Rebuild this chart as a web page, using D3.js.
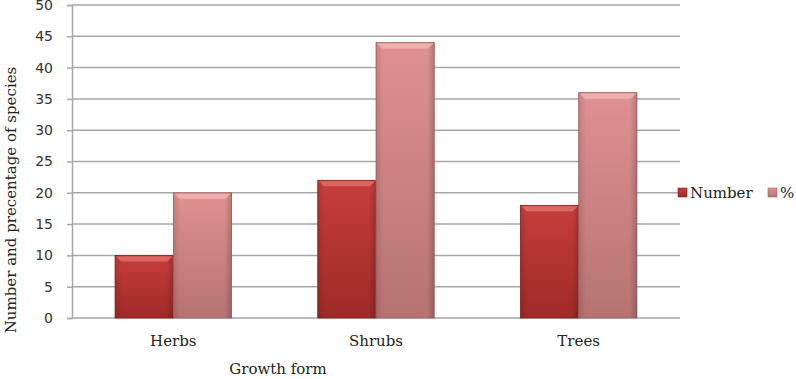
<!DOCTYPE html>
<html>
<head>
<meta charset="utf-8">
<script src="https://cdn.jsdelivr.net/npm/d3@7"></script>
<style>
  body { margin: 0; background: #fff; }
</style>
</head>
<body>
<script>
const categories = ["Herbs", "Shrubs", "Trees"];
const seriesNames = ["Number", "%"];
const numberValues = [10, 22, 18];
const percentValues = [20, 44, 36];
const yTicks = [0, 5, 10, 15, 20, 25, 30, 35, 40, 45, 50];

const margin = { top: 5, right: 116, bottom: 61, left: 72 };
const width = 796 - margin.left - margin.right;
const height = 379 - margin.top - margin.bottom;
const serif = "DejaVu Serif, Georgia, serif";

const svg = d3.select("body")
  .append("svg")
  .attr("width", 796)
  .attr("height", 379);

const defs = svg.append("defs");
const palette = [
  { id: "gNum", top: "#c73e3c", bottom: "#9e2a28", edge: "#8a2322", hi: "#de6a66" },
  { id: "gPct", top: "#e09191", bottom: "#b67272", edge: "#a26565", hi: "#f0b4b2" }
];
palette.forEach(p => {
  const lg = defs.append("linearGradient")
    .attr("id", p.id).attr("x1", 0).attr("y1", 0).attr("x2", 0).attr("y2", 1);
  lg.append("stop").attr("offset", "0%").attr("stop-color", p.top);
  lg.append("stop").attr("offset", "100%").attr("stop-color", p.bottom);
  const sg = defs.append("linearGradient")
    .attr("id", p.id + "s").attr("x1", 0).attr("y1", 0).attr("x2", 1).attr("y2", 0);
  sg.append("stop").attr("offset", "0%").attr("stop-color", "#000").attr("stop-opacity", 0.12);
  sg.append("stop").attr("offset", "12%").attr("stop-color", "#000").attr("stop-opacity", 0);
  sg.append("stop").attr("offset", "88%").attr("stop-color", "#000").attr("stop-opacity", 0);
  sg.append("stop").attr("offset", "100%").attr("stop-color", "#000").attr("stop-opacity", 0.18);
});

const g = svg.append("g")
  .attr("transform", `translate(${margin.left},${margin.top})`);

const x0 = d3.scaleBand()
  .domain(categories)
  .range([0, width])
  .paddingInner(0.425)
  .paddingOuter(0.2125);

const x1 = d3.scaleBand()
  .domain(seriesNames)
  .range([0, x0.bandwidth()]);

const y = d3.scaleLinear()
  .domain([0, 50])
  .range([height, 0]);

// gridlines
g.append("g")
  .selectAll("line")
  .data(yTicks)
  .join("line")
  .attr("x1", 0)
  .attr("x2", width)
  .attr("y1", d => y(d))
  .attr("y2", d => y(d))
  .attr("stroke", "#a6a6a6")
  .attr("stroke-width", 1.5);

// y axis
const yAxis = g.append("g")
  .call(d3.axisLeft(y).tickValues(yTicks).tickSize(5).tickPadding(14));
yAxis.select(".domain").attr("stroke", "#a6a6a6").attr("stroke-width", 1.5);
yAxis.selectAll(".tick line").attr("stroke", "#a6a6a6").attr("stroke-width", 1.5);
yAxis.selectAll(".tick text")
  .attr("font-family", "DejaVu Sans, Verdana, sans-serif")
  .attr("font-size", "14px")
  .attr("fill", "#333");

// bars
const rows = categories.map((c, i) => ({ cat: c, vals: [numberValues[i], percentValues[i]] }));

const groups = g.append("g")
  .selectAll("g")
  .data(rows)
  .join("g")
  .attr("transform", d => `translate(${x0(d.cat)},0)`);

const bars = groups.selectAll("g")
  .data(d => d.vals.map((v, j) => ({ key: seriesNames[j], v: v, j: j })))
  .join("g");

bars.append("rect")
  .attr("x", d => x1(d.key))
  .attr("y", d => y(d.v))
  .attr("width", x1.bandwidth())
  .attr("height", d => y(0) - y(d.v))
  .attr("fill", d => `url(#${palette[d.j].id})`)
  .attr("stroke", d => palette[d.j].edge)
  .attr("stroke-width", 0.8);

bars.append("rect")
  .attr("x", d => x1(d.key))
  .attr("y", d => y(d.v))
  .attr("width", x1.bandwidth())
  .attr("height", d => y(0) - y(d.v))
  .attr("fill", d => `url(#${palette[d.j].id}s)`);

// bevel highlight on top
bars.append("path")
  .attr("d", d => {
    const xa = x1(d.key), xb = xa + x1.bandwidth(), yt = y(d.v);
    return `M${xa + 1},${yt + 1} L${xb - 1},${yt + 1} L${xb - 6},${yt + 6} L${xa + 6},${yt + 6} Z`;
  })
  .attr("fill", d => palette[d.j].hi)
  .attr("opacity", 0.9);

// x axis labels
g.append("g")
  .attr("transform", `translate(0,${height})`)
  .call(d3.axisBottom(x0).tickSize(0).tickPadding(17))
  .call(a => a.select(".domain").remove())
  .selectAll("text")
  .attr("font-family", serif)
  .attr("font-size", "15px")
  .attr("fill", "#222");

// axis titles
svg.append("text")
  .attr("x", 278)
  .attr("y", 374)
  .attr("text-anchor", "middle")
  .attr("font-family", serif)
  .attr("font-size", "15px")
  .attr("fill", "#222")
  .text("Growth form");

svg.append("text")
  .attr("transform", "rotate(-90)")
  .attr("x", -200)
  .attr("y", 16)
  .attr("text-anchor", "middle")
  .attr("font-family", serif)
  .attr("font-size", "15px")
  .attr("fill", "#222")
  .text("Number and precentage of species");

// legend
const legend = svg.append("g")
  .attr("transform", `translate(678,193)`);

const legendX = [0, 90];
seriesNames.forEach((s, i) => {
  const lg = legend.append("g").attr("transform", `translate(${legendX[i]},0)`);
  lg.append("rect")
    .attr("x", 0).attr("y", -5)
    .attr("width", 9).attr("height", 9)
    .attr("fill", `url(#${palette[i].id})`)
    .attr("stroke", palette[i].edge)
    .attr("stroke-width", 0.6);
  lg.append("text")
    .attr("x", 12)
    .attr("y", 5)
    .attr("font-family", serif)
    .attr("font-size", "15px")
    .attr("fill", "#222")
    .text(s);
});
</script>
</body>
</html>
